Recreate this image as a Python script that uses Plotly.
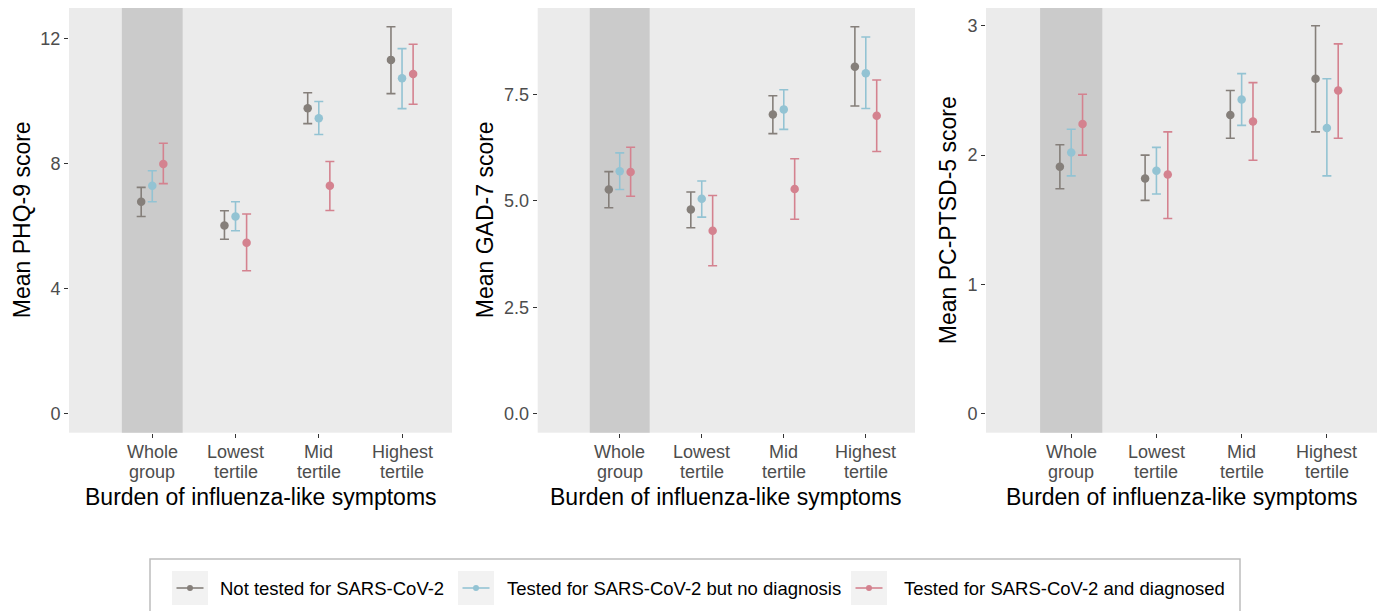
import plotly.graph_objects as go

# ---------------- data ----------------
categories = ["Whole\ngroup", "Lowest\ntertile", "Mid\ntertile", "Highest\ntertile"]
series_names = ["Not tested for SARS-CoV-2",
                "Tested for SARS-CoV-2 but no diagnosis",
                "Tested for SARS-CoV-2 and diagnosed"]

# PHQ-9
phq_not_mean = [6.79, 6.03, 9.78, 11.33]
phq_not_lo = [6.32, 5.59, 9.29, 10.25]
phq_not_hi = [7.25, 6.50, 10.28, 12.39]
phq_nodx_mean = [7.30, 6.32, 9.46, 10.74]
phq_nodx_lo = [6.79, 5.86, 8.94, 9.77]
phq_nodx_hi = [7.78, 6.79, 10.00, 11.69]
phq_dx_mean = [8.00, 5.48, 7.30, 10.88]
phq_dx_lo = [7.37, 4.58, 6.51, 9.91]
phq_dx_hi = [8.66, 6.40, 8.08, 11.83]

# GAD-7
gad_not_mean = [5.27, 4.80, 7.03, 8.15]
gad_not_lo = [4.84, 4.37, 6.58, 7.23]
gad_not_hi = [5.69, 5.21, 7.47, 9.09]
gad_nodx_mean = [5.70, 5.05, 7.15, 8.00]
gad_nodx_lo = [5.27, 4.62, 6.68, 7.17]
gad_nodx_hi = [6.13, 5.47, 7.61, 8.85]
gad_dx_mean = [5.68, 4.30, 5.28, 7.00]
gad_dx_lo = [5.11, 3.48, 4.57, 6.16]
gad_dx_hi = [6.26, 5.13, 5.99, 7.84]

# PC-PTSD-5
pts_not_mean = [1.91, 1.82, 2.31, 2.59]
pts_not_lo = [1.74, 1.65, 2.13, 2.18]
pts_not_hi = [2.08, 2.00, 2.50, 3.00]
pts_nodx_mean = [2.02, 1.88, 2.43, 2.21]
pts_nodx_lo = [1.84, 1.70, 2.23, 1.84]
pts_nodx_hi = [2.20, 2.06, 2.63, 2.59]
pts_dx_mean = [2.24, 1.85, 2.26, 2.50]
pts_dx_lo = [2.00, 1.51, 1.96, 2.13]
pts_dx_hi = [2.47, 2.18, 2.56, 2.86]

y_titles = ["Mean PHQ-9 score", "Mean GAD-7 score", "Mean PC-PTSD-5 score"]
x_title = "Burden of influenza-like symptoms"
y_tickvals = [[0, 4, 8, 12], [0, 2.5, 5, 7.5], [0, 1, 2, 3]]
y_ticktext = [["0", "4", "8", "12"], ["0.0", "2.5", "5.0", "7.5"], ["0", "1", "2", "3"]]
y_ranges = [[-0.6, 12.99], [-0.44, 9.53], [-0.145, 3.137]]

panels = [
    [(phq_not_mean, phq_not_lo, phq_not_hi),
     (phq_nodx_mean, phq_nodx_lo, phq_nodx_hi),
     (phq_dx_mean, phq_dx_lo, phq_dx_hi)],
    [(gad_not_mean, gad_not_lo, gad_not_hi),
     (gad_nodx_mean, gad_nodx_lo, gad_nodx_hi),
     (gad_dx_mean, gad_dx_lo, gad_dx_hi)],
    [(pts_not_mean, pts_not_lo, pts_not_hi),
     (pts_nodx_mean, pts_nodx_lo, pts_nodx_hi),
     (pts_dx_mean, pts_dx_lo, pts_dx_hi)],
]

# ---------------- style ----------------
OFF = 8                      # page body margin in the browser
W, H = 1385 - OFF, 611 - OFF  # figure size


def px(xp):
    return min(1.0, max(0.0, (xp - OFF) / W))


def py(yp):
    return min(1.0, max(0.0, 1 - (yp - OFF) / H))


colors = ["#857f7a", "#93c3d3", "#d4828f"]
dodge = [-0.133, 0.0, 0.133]
font_family = "Liberation Sans, Arial, sans-serif"

x_domains_px = [(69, 452), (537.7, 915), (986, 1378)]
y_top_px, y_bot_px = 8, 432.7
y_title_x_px = [22, 485, 948]
tick_line_y_px = [452, 472]
x_title_y_px = 497

legend_box = (150, 1240, 559)
legend_key_cx = [190, 476, 869]
legend_text_x = [218, 505, 902]
legend_cy = 588

fig = go.Figure()

for p, series in enumerate(panels):
    xa = "x" if p == 0 else f"x{p+1}"
    ya = "y" if p == 0 else f"y{p+1}"
    for s, (mean, lo, hi) in enumerate(series):
        xs = [i + 1 + dodge[s] for i in range(len(categories))]
        fig.add_trace(go.Scatter(
            x=xs, y=mean, mode="markers", name=series_names[s],
            marker=dict(color=colors[s], size=8.5),
            error_y=dict(type="data", symmetric=False,
                         array=[h - m for h, m in zip(hi, mean)],
                         arrayminus=[m - l for m, l in zip(mean, lo)],
                         color=colors[s], thickness=1.6, width=4.5),
            xaxis=xa, yaxis=ya, showlegend=False, hoverinfo="skip"))

layout = dict(
    width=W, height=H,
    margin=dict(l=0, r=0, t=0, b=0),
    paper_bgcolor="white",
    plot_bgcolor="#ebebeb",
    font=dict(family=font_family, size=18, color="#4d4d4d"),
    showlegend=False,
)

shapes = []
annotations = []
for p in range(3):
    sfx = "" if p == 0 else str(p + 1)
    x0, x1 = x_domains_px[p]
    layout[f"xaxis{sfx}"] = dict(
        domain=[px(x0), px(x1)], range=[0.0, 4.6],
        tickvals=[1, 2, 3, 4], showticklabels=False,
        ticks="outside", ticklen=4, tickcolor="#333333", tickwidth=1.1,
        showgrid=False, zeroline=False, showline=False,
        anchor="y" + sfx, fixedrange=True)
    layout[f"yaxis{sfx}"] = dict(
        domain=[py(y_bot_px), py(y_top_px)], range=y_ranges[p],
        tickvals=y_tickvals[p], ticktext=y_ticktext[p],
        ticks="outside", ticklen=4, tickcolor="#333333", tickwidth=1.1,
        showgrid=False, zeroline=False, showline=False,
        tickfont=dict(size=18, color="#4d4d4d"),
        anchor="x" + sfx, fixedrange=True)
    # shaded "Whole group" band
    shapes.append(dict(type="rect", xref="x" + sfx, yref=f"y{sfx} domain",
                       x0=0.635, x1=1.365, y0=0, y1=1,
                       fillcolor="#cbcbcb", line=dict(width=0), layer="below"))
    # category labels (two lines each)
    for i, cat in enumerate(categories):
        for li, part in enumerate(cat.split("\n")):
            annotations.append(dict(text=part, xref="x" + sfx, yref="paper",
                                    x=i + 1, y=py(tick_line_y_px[li]),
                                    showarrow=False, xanchor="center", yanchor="middle",
                                    font=dict(size=18, color="#4d4d4d")))
    # y title
    annotations.append(dict(text=y_titles[p], xref="paper", yref="paper",
                            x=px(y_title_x_px[p]), y=py((7.7 + y_bot_px) / 2),
                            textangle=-90, showarrow=False,
                            xanchor="center", yanchor="middle",
                            font=dict(size=23, color="black")))
    # x title
    annotations.append(dict(text=x_title, xref="paper", yref="paper",
                            x=px((x0 + x1) / 2), y=py(x_title_y_px),
                            showarrow=False, xanchor="center", yanchor="middle",
                            font=dict(size=23, color="black")))

# legend (drawn as box + keys + text)
lb_x0, lb_x1, lb_top = legend_box
shapes.append(dict(type="rect", xref="paper", yref="paper",
                   x0=px(lb_x0), x1=px(lb_x1), y0=-0.02, y1=py(lb_top),
                   line=dict(color="#bdbdbd", width=1.5), fillcolor="rgba(0,0,0,0)"))
for s, name in enumerate(series_names):
    cx = legend_key_cx[s]
    shapes.append(dict(type="rect", xref="paper", yref="paper",
                       x0=px(cx - 18), x1=px(cx + 18),
                       y0=py(legend_cy + 17), y1=py(legend_cy - 17),
                       fillcolor="#f2f2f2", line=dict(width=0)))
    shapes.append(dict(type="line", xref="paper", yref="paper",
                       x0=px(cx - 13.5), x1=px(cx + 13.5),
                       y0=py(legend_cy), y1=py(legend_cy),
                       line=dict(color=colors[s], width=1.6)))
    shapes.append(dict(type="circle", xref="paper", yref="paper",
                       x0=px(cx - 3), x1=px(cx + 3),
                       y0=py(legend_cy + 3), y1=py(legend_cy - 3),
                       fillcolor=colors[s], line=dict(width=0)))
    annotations.append(dict(text=name, xref="paper", yref="paper",
                            x=px(legend_text_x[s]), y=py(legend_cy),
                            showarrow=False, xanchor="left", yanchor="middle",
                            font=dict(size=18.5, color="black")))

layout["shapes"] = shapes
layout["annotations"] = annotations
fig.update_layout(**layout)

fig.write_html("out.html")
